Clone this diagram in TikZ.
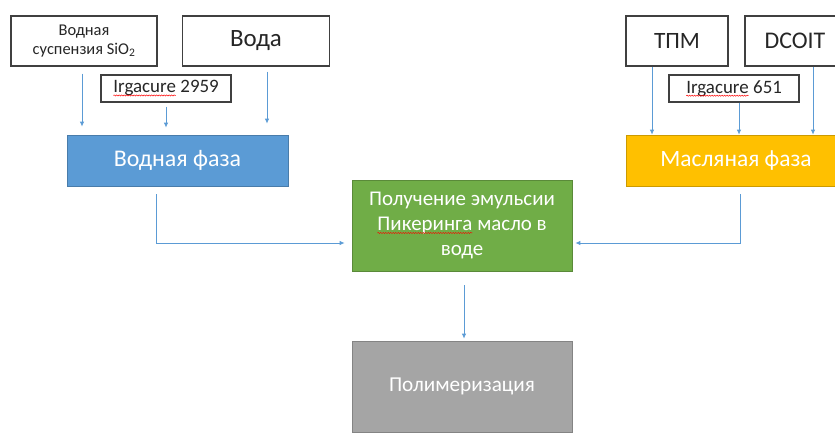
\documentclass[tikz,border=0pt]{standalone}
\usepackage{fontspec}
\setmainfont{Carlito}
\usetikzlibrary{arrows.meta,calc,decorations.pathmorphing}
\definecolor{ablue}{HTML}{5B9BD5}
\definecolor{fblue}{HTML}{5B9BD5}
\definecolor{fyellow}{HTML}{FFC000}
\definecolor{fgreen}{HTML}{70AD47}
\definecolor{fgray}{HTML}{A5A5A5}
\newcommand\spellerr[1]{\tikz[baseline=(w.base)]{\node[draw=none,fill=none,inner sep=0pt,outer sep=0pt,minimum width=0pt,minimum height=0pt] (w) {#1};\draw[red,line width=0.5bp,decorate,decoration={snake,amplitude=0.6bp,segment length=2.5bp}] ([yshift=-2.5bp]w.base west) -- ([yshift=-2.5bp]w.base east);}}
\tikzset{
  wbox/.style={draw=black!75, line width=1.1bp, fill=white, inner sep=0pt, align=center, text=black!85},
  cbox/.style={draw=#1!80!black, line width=0.6bp, fill=#1, inner sep=0pt, align=center, text=white},
  arr/.style={draw=ablue, line width=0.9bp, -{Latex[length=5bp,width=4.5bp]}}
}
\begin{document}
\begin{tikzpicture}[x=1bp,y=-1bp]
\useasboundingbox (0,0) rectangle (835,443);
\clip (0,0) rectangle (835,443);
% top input boxes
\node[wbox, minimum width=146bp, minimum height=50bp, font=\fontsize{16.5}{19}\selectfont] (susp) at (84,41) {Водная\\суспензия SiO\textsubscript{2}};
\node[wbox, minimum width=147bp, minimum height=50bp, font=\fontsize{25}{28}\selectfont] (water) at (256,41) {Вода};
\node[wbox, minimum width=130bp, minimum height=27bp, font=\fontsize{19}{21}\selectfont] (ig1) at (166,88.5) {\spellerr{Irgacure} 2959};
\node[wbox, minimum width=102bp, minimum height=50bp, font=\fontsize{23.5}{28}\selectfont] (tpm) at (677,41) {ТПМ};
\node[wbox, minimum width=100bp, minimum height=50bp, font=\fontsize{24}{28}\selectfont] (dcoit) at (795,41) {DCOIT};
\node[wbox, minimum width=130bp, minimum height=27bp, font=\fontsize{19}{21}\selectfont] (ig2) at (734,88.5) {\spellerr{Irgacure} 651};
% phases
\node[cbox=fblue, minimum width=221bp, minimum height=51bp, font=\fontsize{24}{28}\selectfont] (aq) at (177.5,160.5) {Водная фаза};
\node[cbox=fyellow, minimum width=220bp, minimum height=51bp, font=\fontsize{23.5}{28}\selectfont] (oil) at (736,160.5) {Масляная фаза};
\node[cbox=fgreen, minimum width=220bp, minimum height=91bp, font=\fontsize{21}{25}\selectfont] (emul) at (462,225.5) {Получение эмульсии\\\spellerr{Пикеринга} масло в\\воде};
\node[cbox=fgray, minimum width=220bp, minimum height=91bp, font=\fontsize{21.3}{25}\selectfont] (poly) at (462,386.5) {Полимеризация};
% x positions
\coordinate (x1) at (82,0);
\coordinate (x2) at (166,0);
\coordinate (x3) at (267,0);
\coordinate (x4) at (652,0);
\coordinate (x5) at (739,0);
\coordinate (x6) at (813,0);
\coordinate (xl) at (156,0);
\coordinate (xr) at (740,0);
% arrows
\draw[arr] ($(susp.south -| x1)+(0,7)$) -- ($(aq.north -| x1)+(0,-8)$);
\draw[arr] ($(ig1.south -| x2)+(0,4)$) -- ($(aq.north -| x2)+(0,-7)$);
\draw[arr] ($(water.south -| x3)+(0,5)$) -- ($(aq.north -| x3)+(0,-11)$);
\draw[arr] (tpm.south -| x4) -- (oil.north -| x4);
\draw[arr] (ig2.south -| x5) -- (oil.north -| x5);
\draw[arr] (dcoit.south -| x6) -- (oil.north -| x6);
\draw[arr] ($(aq.south -| xl)+(0,8)$) |- ($(emul.west)+(-7,17.5)$);
\draw[arr] ($(oil.south -| xr)+(0,8)$) |- ($(emul.east)+(3,17.5)$);
\draw[arr] ($(emul.south)+(2,14)$) -- ($(poly.north)+(2,-2)$);
\end{tikzpicture}
\end{document}
